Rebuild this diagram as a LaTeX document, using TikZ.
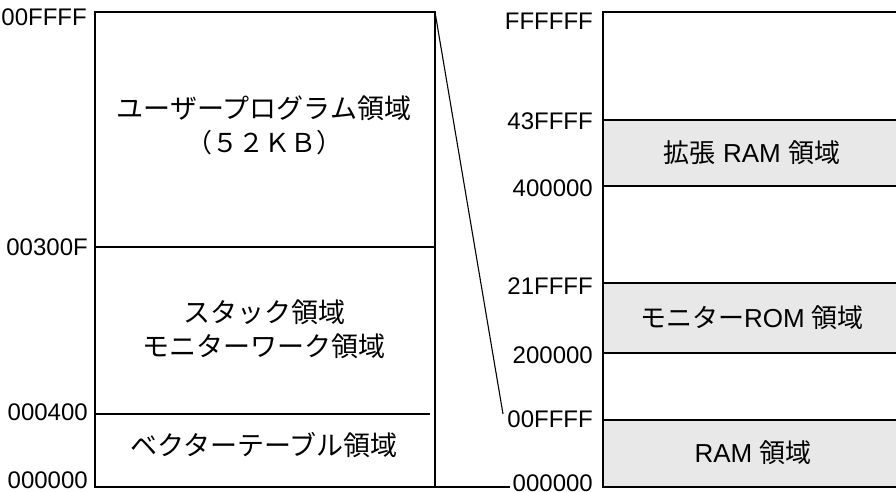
\documentclass[tikz,border=0pt]{standalone}
\usepackage{fontspec}
\setmainfont{Liberation Sans}
\newfontfamily\jp{Noto Sans CJK JP}
\definecolor{areagray}{HTML}{E8E8E8}

\begin{document}
\begin{tikzpicture}[x=1pt,y=-1pt,
    addr/.style ={anchor=east, inner sep=0pt, font=\fontsize{24}{28}\selectfont},
    area/.style ={align=center, inner sep=0pt, font=\fontsize{26}{34}\selectfont},
    memline/.style ={line width=1.3pt}]
   \useasboundingbox (0,0) rectangle (896,492);

   % small map
   \draw[memline] (95,12) rectangle (435,487);
   \draw[memline] (95,247) -- (435,247);
   \draw[memline] (95,414) -- (430,414);

   \node[addr] (a0) at (87,17)  {00FFFF};
   \node[addr] (a1) at (88,247) {00300F};
   \node[addr] (a2) at (88,412) {000400};
   \node[addr] (a3) at (88,480) {000000};

   \node[area] (user)  at (264,125) {{\jp\fontsize{27}{34}\selectfont ユーザープログラム領域}\\{\jp （５２ＫＢ）}};
   \node[area] (stack) at (264,329) {{\jp\fontsize{27}{32}\selectfont スタック領域}\\{\jp\fontsize{27}{32}\selectfont モニターワーク領域}};
   \node[area] (vect)  at (264,445) {{\jp\fontsize{27}{32}\selectfont ベクターテーブル領域}};

   % full map
   \fill[areagray] (603,120) rectangle (896,186);
   \fill[areagray] (603,283) rectangle (896,353);
   \fill[areagray] (603,420) rectangle (896,487);
   \draw[memline] (896,12) -- (603,12) -- (603,487) -- (896,487);
   \draw[memline] (603,120) -- (896,120);
   \draw[memline] (603,186) -- (896,186);
   \draw[memline] (603,283) -- (896,283);
   \draw[memline] (603,353) -- (896,353);
   \draw[memline] (603,420) -- (896,420);

   \node[addr] (b0) at (593,21)  {FFFFFF};
   \node[addr] (b1) at (593,121) {43FFFF};
   \node[addr] (b2) at (593,188) {400000};
   \node[addr] (b3) at (593,286) {21FFFF};
   \node[addr] (b4) at (593,355) {200000};
   \node[addr] (b5) at (593,419) {00FFFF};
   \node[addr] (b6) at (593,483) {000000};

   \node[area] (xram) at (752,153) {{\jp 拡張} RAM {\jp 領域}};
   \node[area] (mrom) at (752,318) {{\jp モニター}ROM {\jp 領域}};
   \node[area] (ram)  at (753,453) {RAM {\jp 領域}};

   % zoom lines
   \coordinate (ltop) at (435,12);
   \coordinate (lbot) at (435,487);
   \coordinate (rtop) at (503,414);
   \coordinate (rbot) at (510,487);
   \draw[line width=1.1pt] (ltop) to (rtop);
   \draw[line width=1.1pt] (lbot) to (rbot);
 \end{tikzpicture}
\end{document}
